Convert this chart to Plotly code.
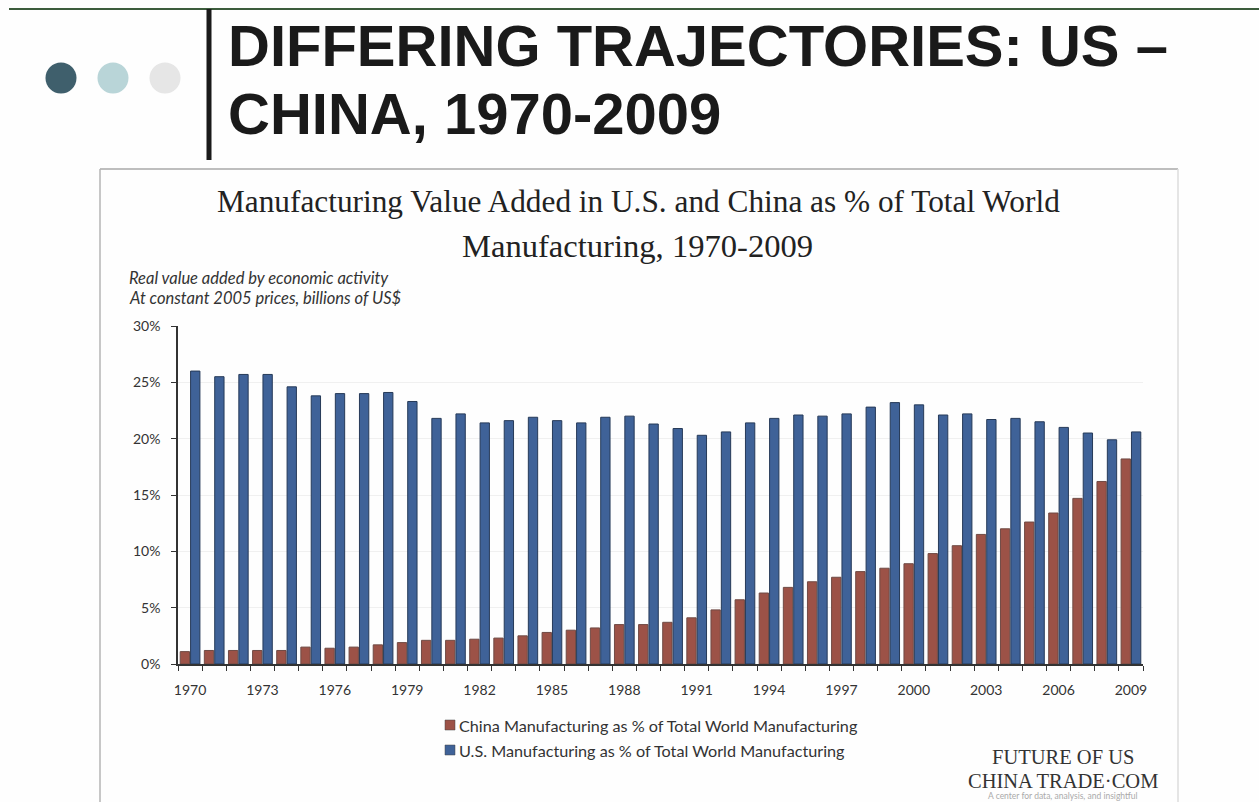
import plotly.graph_objects as go

W, H = 1259, 802
L, R, T, B = 178, 1143, 326, 664

years = list(range(1970, 2010))
china_pct = [1.1, 1.2, 1.2, 1.2, 1.2, 1.5, 1.4, 1.5, 1.7, 1.9,
             2.1, 2.1, 2.2, 2.3, 2.5, 2.8, 3.0, 3.2, 3.5, 3.5,
             3.7, 4.1, 4.8, 5.7, 6.3, 6.8, 7.3, 7.7, 8.2, 8.5,
             8.9, 9.8, 10.5, 11.5, 12.0, 12.6, 13.4, 14.7, 16.2, 18.2]
us_pct = [26.0, 25.5, 25.7, 25.7, 24.6, 23.8, 24.0, 24.0, 24.1, 23.3,
          21.8, 22.2, 21.4, 21.6, 21.9, 21.6, 21.4, 21.9, 22.0, 21.3,
          20.9, 20.3, 20.6, 21.4, 21.8, 22.1, 22.0, 22.2, 22.8, 23.2,
          23.0, 22.1, 22.2, 21.7, 21.8, 21.5, 21.0, 20.5, 19.9, 20.6]
year_ticks = list(range(1970, 2010, 3))
pct_ticks = [0, 5, 10, 15, 20, 25, 30]
china_name = "China Manufacturing as % of Total World Manufacturing"
us_name = "U.S. Manufacturing as % of Total World Manufacturing"
CHINA_COL = "#9c5247"
US_COL = "#3f6298"


def px(x):
    return (x - L) / (R - L)


def py(y):
    return (B - y) / (B - T)


fig = go.Figure()
fig.add_bar(x=years, y=china_pct, name=china_name, showlegend=False,
            marker=dict(color=CHINA_COL, line=dict(color="#6f4a44", width=1)))
fig.add_bar(x=years, y=us_pct, name=us_name, showlegend=False,
            marker=dict(color=US_COL, line=dict(color="#263a58", width=1)))


def line(x0, y0, x1, y1, color, width):
    fig.add_shape(type="line", xref="paper", yref="paper", x0=px(x0), y0=py(y0),
                  x1=px(x1), y1=py(y1), line=dict(color=color, width=width))


line(9, 9, W, 9, "#3c5c3c", 2)
line(209, 9, 209, 160, "#1a1a1a", 5)
line(100, 169, 1178, 169, "#a8a8a8", 1.5)
line(100, 169, 100, H, "#b4b4b4", 1.5)
line(1178, 169, 1178, H, "#dcdcdc", 1.5)
for cx, col in [(61, "#3f5f6c"), (113, "#b9d5d8"), (165, "#e6e6e6")]:
    fig.add_shape(type="circle", xref="paper", yref="paper", fillcolor=col,
                  line=dict(width=0), x0=px(cx - 15.5), x1=px(cx + 15.5),
                  y0=py(78 + 15.5), y1=py(78 - 15.5))
for ky, col in [(725, CHINA_COL), (750, US_COL)]:
    fig.add_shape(type="rect", xref="paper", yref="paper", fillcolor=col,
                  line=dict(color="#444444", width=0.5), x0=px(445), x1=px(455),
                  y0=py(ky + 5), y1=py(ky - 5))


def text(x, y, s, family, size, color="#222222", anchor="left", **kw):
    fig.add_annotation(xref="paper", yref="paper", x=px(x), y=py(y), text=s,
                       showarrow=False, xanchor=anchor, yanchor="middle",
                       borderpad=0,
                       font=dict(family=family, size=size, color=color), **kw)


HEAD = "Liberation Sans"
text(227, 45, "<b>DIFFERING TRAJECTORIES: US –</b>", HEAD, 58, "#1a1a1a")
text(227, 113, "<b>CHINA, 1970-2009</b>", HEAD, 58, "#1a1a1a")
SER = "Liberation Serif"
text(638, 201, "Manufacturing Value Added in U.S. and China as % of Total World", SER, 31.3, anchor="center")
text(637, 246, "Manufacturing, 1970-2009", SER, 32.6, anchor="center")
text(128, 278, "<i>Real value added by economic activity</i>", "Lato", 16.5, "#333333")
text(128, 298, "<i>At constant 2005 prices, billions of US$</i>", "Lato", 16.5, "#333333")
text(458, 725, china_name, "Lato", 16.2, "#333333")
text(458, 750, us_name, "Lato", 16.2, "#333333")
text(1063, 757, "FUTURE OF US", SER, 20.5, "#333333", anchor="center")
text(1063, 781, "CHINA TRADE·COM", SER, 20.5, "#333333", anchor="center")
text(1063, 796, "A center for data, analysis, and insightful", "Lato", 8.5, "#aaaaaa", anchor="center")

fig.update_layout(
    width=W, height=H, autosize=False,
    margin=dict(l=L, r=W - R, t=T, b=H - B, pad=0),
    paper_bgcolor="#fefefe", plot_bgcolor="#fefefe",
    barmode="group", bargap=0.14, bargroupgap=0.1,
    font=dict(family="Lato", color="#333333"),
    showlegend=False,
    xaxis=dict(range=[1969.5, 2009.5], tickmode="array", tickvals=year_ticks,
               ticktext=[str(y) for y in year_ticks], ticks="", showgrid=False,
               showline=True, linecolor="#333333", linewidth=1.5,
               tickfont=dict(family="Lato", size=14, color="#333333"),
               minor=dict(ticks="outside", tick0=1969.5, dtick=1, ticklen=5,
                          tickcolor="#333333", tickwidth=1, showgrid=False),
               ticklabelstandoff=12),
    yaxis=dict(range=[0, 30], tickmode="array", tickvals=pct_ticks,
               ticktext=[f"{v}%" for v in pct_ticks], ticks="outside", ticklen=5,
               tickcolor="#333333", showline=True, linecolor="#333333", linewidth=1.5,
               gridcolor="#f0f0f0", gridwidth=1, zeroline=False,
               ticklabelstandoff=8,
               tickfont=dict(family="Lato", size=14, color="#333333")),
)

fig.write_html("out.html", config={"displayModeBar": False},
               post_script="document.body.style.margin='0';document.body.style.overflow='hidden';")
